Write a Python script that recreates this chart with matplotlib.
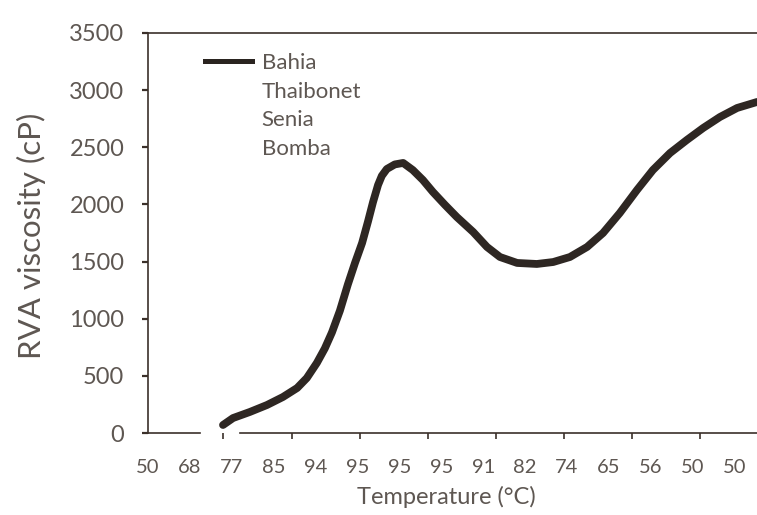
import numpy as np
import matplotlib
matplotlib.use("Agg")
import matplotlib.pyplot as plt
from matplotlib.lines import Line2D
from matplotlib import font_manager

# ---- data ----
temp_labels = ["50", "68", "77", "85", "94", "95", "95", "95", "91", "82",
               "74", "65", "56", "50", "50"]
# position along the time axis, in units of tick-label slots
bahia_x = [1.79, 2.03, 2.43, 2.84, 3.22, 3.56, 3.79, 4.03, 4.22, 4.39,
           4.58, 4.77, 4.94, 5.11, 5.25, 5.37, 5.49, 5.58, 5.70, 5.89,
           6.09, 6.32, 6.56, 6.80, 7.09, 7.37, 7.76, 8.09, 8.40, 8.81,
           9.28, 9.67, 10.07, 10.48, 10.86, 11.26, 11.67, 12.05, 12.46,
           12.86, 13.25, 13.65, 14.06, 14.53, 15.2]
bahia_visc = [70, 131, 184, 245, 315, 394, 481, 613, 740, 880,
              1070, 1300, 1488, 1663, 1850, 2020, 2170, 2250, 2310, 2350,
              2363, 2301, 2214, 2109, 1995, 1890, 1759, 1628, 1540, 1488,
              1479, 1496, 1540, 1628, 1750, 1925, 2126, 2301, 2450,
              2564, 2669, 2765, 2844, 2896, 2915]
series_names = ["Bahia", "Thaibonet", "Senia", "Bomba"]
y_ticks = [0, 500, 1000, 1500, 2000, 2500, 3000, 3500]

# ---- font ----
names = {f.name for f in font_manager.fontManager.ttflist}
family = "Lato" if "Lato" in names else "DejaVu Sans"
plt.rcParams["font.family"] = [family, "DejaVu Sans"]

txt = "#5e5752"
axc = "#3b302a"

W, H = 757, 515
fig = plt.figure(figsize=(W / 100, H / 100), dpi=100)
left_px, right_px, top_px, bot_px = 148, 790, 33, 433
ax = fig.add_axes([left_px / W, (H - bot_px) / H,
                   (right_px - left_px) / W, (bot_px - top_px) / H])
xmax = (right_px - left_px) / 41.9
ax.set_xlim(0, xmax)
ax.set_ylim(0, 3500)

ax.plot(bahia_x, bahia_visc, color="#2e2723", lw=5.6,
        solid_capstyle="round", solid_joinstyle="round", zorder=3)

# axes styling
ax.spines["right"].set_visible(False)
for s in ["left", "top", "bottom"]:
    ax.spines[s].set_color(axc)
    ax.spines[s].set_linewidth(1.2)
ax.spines["bottom"].set_bounds(2.2, xmax)
ax.plot([0, 1.24], [0, 0], color=axc, lw=1.2, clip_on=False, zorder=2)

ax.set_yticks(y_ticks)
ax.set_yticklabels([str(v) for v in y_ticks])
ax.tick_params(axis="y", direction="out", length=4, width=1.6, color=axc,
               labelsize=17, labelcolor=txt, pad=13)

ax.set_xticks(np.arange(len(temp_labels)))
ax.set_xticklabels(temp_labels)
ax.tick_params(axis="x", which="major", length=0, labelsize=14.5,
               labelcolor=txt, pad=19)
ax.set_xticks(np.arange(1.80, xmax, 1.625), minor=True)
ax.tick_params(axis="x", which="minor", direction="out", length=4, width=1.2,
               color=axc)

ax.set_xlabel("Temperature (°C)", fontsize=17, color=txt)
ax.xaxis.set_label_coords((446 - left_px) / (right_px - left_px), -0.132)
ax.set_ylabel("RVA viscosity (cP)", fontsize=22.5, color=txt)
ax.yaxis.set_label_coords((46 - left_px) / (right_px - left_px), 0.494)

handles = [Line2D([], [], color="#2a2420", lw=3.6)] + \
          [Line2D([], [], color="none") for _ in series_names[1:]]
leg = fig.legend(handles, series_names, loc="upper left",
                 bbox_to_anchor=(205 / W, (H - 53) / H), frameon=False,
                 fontsize=16, handlelength=2.1, handletextpad=0.45,
                 labelspacing=0.39, borderpad=0, borderaxespad=0)
for t in leg.get_texts():
    t.set_color(txt)

fig.savefig("out.png", dpi=100)
